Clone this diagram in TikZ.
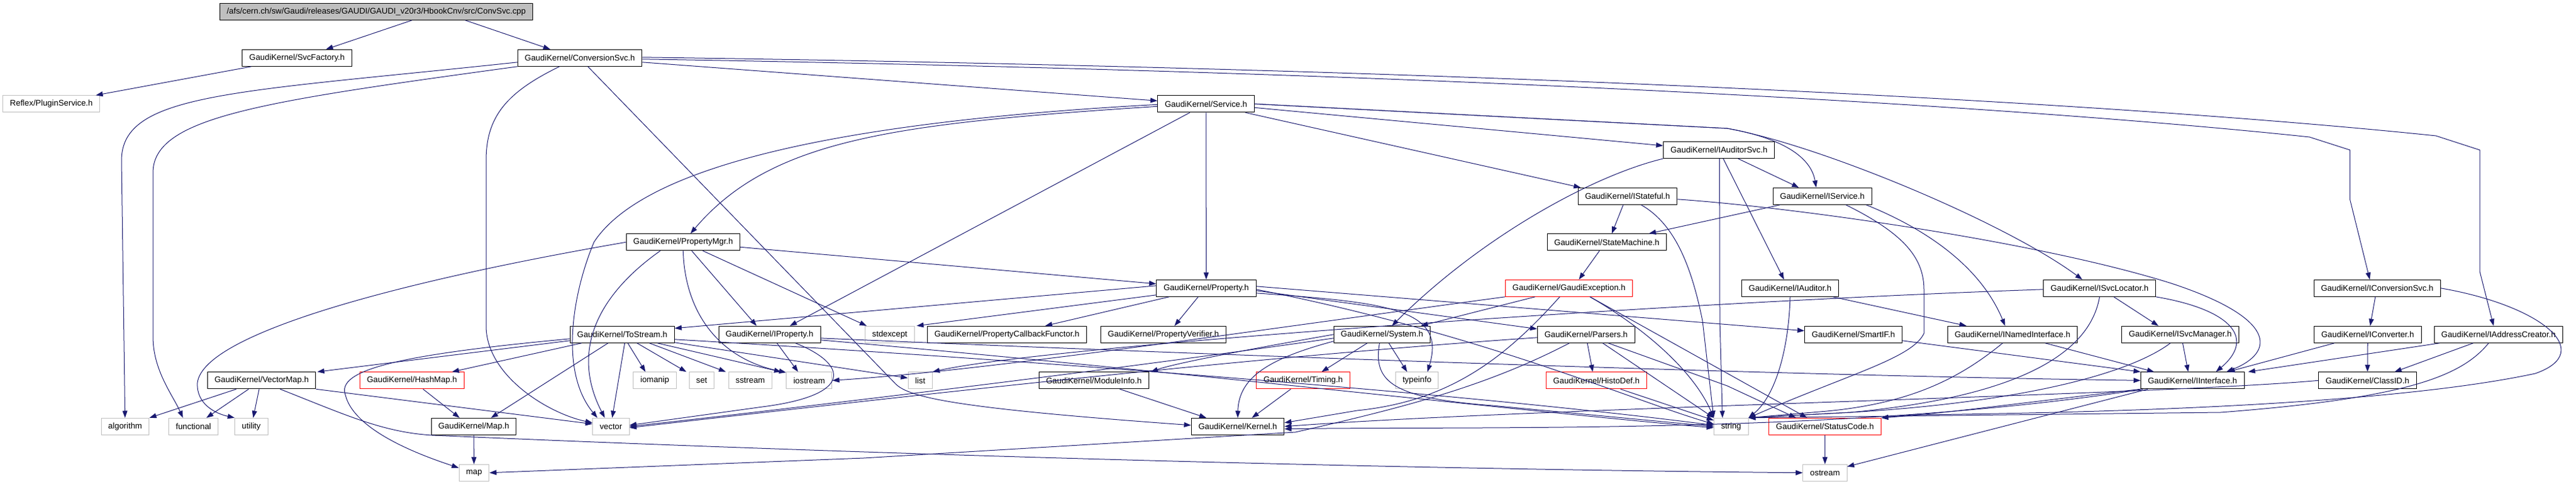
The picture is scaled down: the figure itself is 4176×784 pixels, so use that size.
\documentclass[tikz,border=0pt]{standalone}
\usepackage{fontspec}
\setmainfont{Liberation Sans}
\usepackage{tikz}
\usetikzlibrary{arrows.meta, calc}
\definecolor{edgeblue}{RGB}{25,25,112}
\definecolor{extgray}{RGB}{191,191,191}

\begin{document}
\begin{tikzpicture}[x=0.75pt, y=-0.75pt,
  hdr/.style={draw=black, fill=white, line width=0.75pt, inner xsep=8.6pt, inner ysep=0pt,
    minimum height=20.25pt, font=\fontsize{10}{12}\selectfont},
  ext/.style={hdr, draw=extgray},
  trunc/.style={hdr, draw=red},
  root/.style={hdr, fill=extgray},
  dep/.style={-{Triangle[length=8.5pt,width=6pt]}, draw=edgeblue, line width=0.75pt}]
\useasboundingbox (0,0) rectangle (4176,784);

% headers, row by row
\node[root] (convsvccpp) at (610,18.8) {/afs/cern.ch/sw/Gaudi/releases/GAUDI/GAUDI\_v20r3/HbookCnv/src/ConvSvc.cpp};
\node[hdr] (svcfactory) at (481.5,93.8) {GaudiKernel/SvcFactory.h};
\node[hdr] (conversionsvc) at (940,93.8) {GaudiKernel/ConversionSvc.h};
\node[ext] (pluginsvc) at (83.3,168.3) {Reflex/PluginService.h};
\node[hdr] (service) at (1955,168.3) {GaudiKernel/Service.h};
\node[hdr] (iauditorsvc) at (2786.6,243) {GaudiKernel/IAuditorSvc.h};
\node[hdr] (istateful) at (2638.4,317.8) {GaudiKernel/IStateful.h};
\node[hdr] (iservice) at (2954.2,317.8) {GaudiKernel/IService.h};
\node[hdr] (propertymgr) at (1107.4,392.3) {GaudiKernel/PropertyMgr.h};
\node[hdr] (statemachine) at (2604.9,392.3) {GaudiKernel/StateMachine.h};
\node[hdr] (property) at (1955.4,466.8) {GaudiKernel/Property.h};
\node[trunc] (gaudiexception) at (2543.5,466.8) {GaudiKernel/GaudiException.h};
\node[hdr] (iauditor) at (2902,466.8) {GaudiKernel/IAuditor.h};
\node[hdr] (isvclocator) at (3403.6,466.8) {GaudiKernel/ISvcLocator.h};
\node[hdr] (iconversionsvc) at (3853.7,466.8) {GaudiKernel/IConversionSvc.h};
\node[hdr] (tostream) at (1008.7,541.8) {GaudiKernel/ToStream.h};
\node[hdr] (iproperty) at (1247.5,541.8) {GaudiKernel/IProperty.h};
\node[ext] (stdexcept) at (1442.4,541.8) {stdexcept};
\node[hdr] (propertycallback) at (1632.4,541.8) {GaudiKernel/PropertyCallbackFunctor.h};
\node[hdr] (propertyverifier) at (1886,541.8) {GaudiKernel/PropertyVerifier.h};
\node[hdr] (system) at (2240.4,541.8) {GaudiKernel/System.h};
\node[hdr] (parsers) at (2571.2,541.8) {GaudiKernel/Parsers.h};
\node[hdr] (smartif) at (3004.5,541.8) {GaudiKernel/SmartIF.h};
\node[hdr] (inamedinterface) at (3262.5,541.8) {GaudiKernel/INamedInterface.h};
\node[hdr] (isvcmanager) at (3534.4,541.8) {GaudiKernel/ISvcManager.h};
\node[hdr] (iconverter) at (3838.3,541.8) {GaudiKernel/IConverter.h};
\node[hdr] (iaddresscreator) at (4050.3,541.8) {GaudiKernel/IAddressCreator.h};
\node[hdr] (vectormap) at (424.1,616.3) {GaudiKernel/VectorMap.h};
\node[trunc] (hashmap) at (667.8,616.3) {GaudiKernel/HashMap.h};
\foreach \n/\x in {iomanip/1061.4, set/1137.5, sstream/1216.3, iostream/1311.8, list/1491.8, typeinfo/2297.1}
  \node[ext] (\n) at (\x,616.3) {\n};
\node[hdr] (moduleinfo) at (1773.3,616.3) {GaudiKernel/ModuleInfo.h};
\node[trunc] (timing) at (2112.5,616.3) {GaudiKernel/Timing.h};
\node[trunc] (histodef) at (2588,616.3) {GaudiKernel/HistoDef.h};
\node[hdr] (iinterface) at (3554.3,616.3) {GaudiKernel/IInterface.h};
\node[hdr] (classid) at (3837.9,616.3) {GaudiKernel/ClassID.h};
\foreach \n/\x in {algorithm/202.9, functional/313.6, utility/407.4, vector/990.4, string/2806.3}
  \node[ext] (\n) at (\x,690.8) {\n};
\node[hdr] (gaudimap) at (768,690.8) {GaudiKernel/Map.h};
\node[hdr] (kernel) at (2006.5,690.8) {GaudiKernel/Kernel.h};
\node[trunc] (statuscode) at (2958.5,690.8) {GaudiKernel/StatusCode.h};
\node[ext] (map) at (768.5,765.8) {map};
\node[ext] (ostream) at (2958.5,765.8) {ostream};

% ConvSvc.cpp, SvcFactory.h
\draw[dep] ($(convsvccpp.south)+(58,0)$) -- ($(svcfactory.north)+(47,0)$);
\draw[dep] ($(convsvccpp.south)+(144,0)$) -- ($(conversionsvc.north)+(-48,0)$);
\draw[dep] ($(svcfactory.south)+(-74,0)$) -- ($(pluginsvc.north)+(72,0)$);

% ConversionSvc.h
\draw[dep] ($(conversionsvc.west)+(0,7)$) .. controls (380,150) and (197,150) .. (197,260) -- (algorithm);
\draw[dep] (conversionsvc.south west) .. controls (420,165) and (248,190) .. (248,280) -- (248,545)
  .. controls (248,600) and (280,640) .. ($(functional.north)+(-17,0)$);
\draw[dep] ($(conversionsvc.south)+(-33,0)$) .. controls (820,150) and (788,190) .. (788,260) -- (788,530)
  .. controls (790,610) and (890,670) .. ($(vector.west)+(0,-6)$);
\draw[dep] ($(conversionsvc.south)+(13,0)$) -- (1452,622) .. controls (1475,645) and (1560,662) .. ($(kernel.west)+(0,-2)$);
\draw[dep] ($(conversionsvc.east)+(0,7)$) -- ($(service.west)+(0,-5)$);
\draw[dep] ($(conversionsvc.east)+(0,-1)$) .. controls (2450,112) and (3450,168) .. (3949,220) -- (4020,243) -- (4020,440)
  -- ($(iaddresscreator.north)+(-8,0)$);
\draw[dep] ($(conversionsvc.east)+(0,2)$) .. controls (2400,118) and (3300,175) .. (3744,222) -- (3809.5,243) -- (3809.5,323)
  -- ($(iconversionsvc.north)+(-12,0)$);

% Service.h
\draw[dep] ($(service.west)+(0,4)$) .. controls (1450,200) and (1250,225) .. ($(propertymgr.north)+(12,0)$);
\draw[dep] ($(service.west)+(0,1)$) .. controls (1400,195) and (1050,260) .. (963,392) .. controls (930,470) and (905,600) .. ($(vector.north)+(-22,0)$);
\draw[dep] ($(service.south)+(-26,0)$) -- ($(iproperty.north)+(33,0)$);
\draw[dep] (service) -- (property);
\draw[dep] ($(service.south east)+(-15,0)$) -- ($(istateful.north west)+(5,0)$);
\draw[dep] ($(service.east)+(0,6)$) -- ($(iauditorsvc.west)+(0,-7)$);
\draw[dep] (service.east) -- (2800,208) .. controls (2880,222) and (2935,250) .. ($(iservice.north)+(-10,0)$);
\draw[dep] (service.east) -- (2800,208) .. controls (2950,235) and (3250,360) .. ($(isvclocator.north)+(-28,0)$);

% PropertyMgr.h
\draw[dep] (propertymgr.west) .. controls (650,455) and (330,540) .. (320,620) .. controls (318,655) and (350,670) .. (utility.north west);
\draw[dep] ($(propertymgr.south)+(-37,0)$) .. controls (980,470) and (920,560) .. ($(vector.north)+(-10,0)$);
\draw[dep] (propertymgr.south) .. controls (1110,500) and (1160,580) .. ($(iostream.north west)+(0,1)$);
\draw[dep] ($(propertymgr.south)+(14,0)$) -- ($(iproperty.north)+(-21,0)$);
\draw[dep] ($(propertymgr.south)+(32,0)$) -- ($(stdexcept.north west)+(3,0)$);
\draw[dep] ($(propertymgr.east)+(0,8)$) -- ($(property.west)+(0,-7)$);

% Property.h
\draw[dep] ($(property.west)+(0,-4)$) -- ($(tostream.north east)+(0,4)$);
\draw[dep] ($(property.south west)+(0,-3)$) -- ($(stdexcept.north east)+(3,0)$);
\draw[dep] ($(property.south)+(-60,0)$) -- ($(propertycallback.north)+(62,0)$);
\draw[dep] ($(property.south)+(-13,0)$) -- ($(propertyverifier.north)+(18,0)$);
\draw[dep] ($(property.east)+(0,4)$) -- ($(parsers.west)+(0,-9)$);
\draw[dep] ($(property.east)+(0,8)$) .. controls (2250,490) and (2345,500) .. ($(typeinfo.north)+(17,0)$);
\draw[dep] ($(property.east)+(0,-3)$) -- ($(smartif.west)+(0,-6)$);
\draw[dep] ($(property.east)+(0,2)$) .. controls (2400,540) and (2650,650) .. ($(string.west)+(0,-4)$);

% ToStream.h
\draw[dep] ($(tostream.west)+(0,7)$) .. controls (640,575) and (545,600) .. (560,640) .. controls (575,700) and (690,740) .. ($(map.west)+(0,-8)$);
\draw[dep] ($(tostream.west)+(0,10)$) -- ($(vectormap.north east)+(2,0)$);
\draw[dep] ($(tostream.south west)+(19,0)$) -- ($(hashmap.north east)+(-20,0)$);
\draw[dep] ($(tostream.south)+(-23,0)$) -- ($(gaudimap.north)+(28,0)$);
\draw[dep] ($(tostream.south)+(4,0)$) -- ($(vector.north)+(2,0)$);
\draw[dep] ($(tostream.south)+(9,0)$) -- ($(iomanip.north)+(-15,0)$);
\draw[dep] ($(tostream.south)+(24,0)$) -- ($(set.north west)+(-4,0)$);
\draw[dep] ($(tostream.south)+(44,0)$) -- ($(sstream.north west)+(-4,0)$);
\draw[dep] ($(tostream.south)+(57,0)$) -- ($(iostream.north west)+(-8,0)$);
\draw[dep] ($(tostream.east)+(0,13)$) -- ($(list.west)+(0,-4)$);
\draw[dep] ($(tostream.east)+(0,8)$) .. controls (1700,585) and (2400,640) .. ($(string.west)+(0,-2)$);

% IProperty.h
\draw[dep] ($(iproperty.south)+(12,0)$) -- ($(iostream.north)+(-18,0)$);
\draw[dep] ($(iproperty.south)+(42,0)$) .. controls (1375,590) and (1385,640) .. (1236,659) -- ($(vector.east)+(0,-2)$);
\draw[dep] ($(iproperty.east)+(0,6)$) .. controls (2200,585) and (3000,610) .. (iinterface.west);
\draw[dep] ($(iproperty.east)+(0,9)$) .. controls (1900,600) and (2500,670) .. ($(string.west)+(0,2)$);

% VectorMap.h, HashMap.h, Map.h
\draw[dep] ($(vectormap.south)+(-41,0)$) -- (algorithm.north east);
\draw[dep] ($(vectormap.south)+(-21,0)$) -- ($(functional.north)+(21,0)$);
\draw[dep] ($(vectormap.south)+(-4,0)$) -- ($(utility.north)+(3,0)$);
\draw[dep] (vectormap.south east) -- ($(vector.west)+(0,-4)$);
\draw[dep] ($(vectormap.south)+(30,0)$) .. controls (560,672) and (620,700) .. (700,705) .. controls (1500,740) and (2300,760) .. (ostream.west);
\draw[dep] ($(hashmap.south)+(18,0)$) -- ($(gaudimap.north)+(-23,0)$);
\draw[dep] (gaudimap) -- (map);

% IAuditorSvc.h, IStateful.h, IService.h
\draw[dep] ($(iauditorsvc.south)+(31,0)$) -- ($(iservice.north)+(-38,0)$);
\draw[dep] ($(iauditorsvc.south)+(7,0)$) -- ($(iauditor.north)+(-10,0)$);
\draw[dep] (iauditorsvc.south west) .. controls (2580,285) and (2400,385) .. ($(system.north)+(16,0)$);
\draw[dep] ($(iauditorsvc.south)+(1,0)$) -- (2788,520) -- ($(string.north)+(-14,0)$);
\draw[dep] ($(istateful.south)+(-7,0)$) -- ($(statemachine.north)+(8,0)$);
\draw[dep] ($(istateful.east)+(0,5)$) .. controls (2900,335) and (3300,390) .. (3520,459) .. controls (3690,515) and (3690,570) .. ($(iinterface.north)+(55,0)$);
\draw[dep] ($(istateful.south)+(22,0)$) .. controls (2710,360) and (2740,420) .. (2760,520) -- (string.north west);
\draw[dep] ($(iservice.south west)+(12,0)$) -- ($(statemachine.north east)+(-29,0)$);
\draw[dep] ($(iservice.south)+(71,0)$) .. controls (3120,370) and (3210,430) .. ($(inamedinterface.north)+(-12,0)$);
\draw[dep] ($(iservice.south)+(38,0)$) .. controls (3090,380) and (3119,420) .. (3119,470) -- (3119,540)
  .. controls (3100,580) and (3000,605) .. (string.north east);

% StateMachine.h, GaudiException.h
\draw[dep] ($(statemachine.south)+(-12,0)$) -- ($(gaudiexception.north)+(16,0)$);
\draw[dep] ($(gaudiexception.south)+(-55,0)$) -- ($(system.north)+(63,0)$);
\draw[dep] (gaudiexception.south west) .. controls (2000,540) and (1600,600) .. (iostream.east);
\draw[dep] ($(gaudiexception.south)+(-15,0)$) .. controls (2440,580) and (2350,650) .. (2200,665) -- ($(kernel.east)+(0,-6)$);
\draw[dep] ($(gaudiexception.south)+(34,0)$) -- ($(statuscode.north)+(-29,0)$);
\draw[dep] ($(gaudiexception.south)+(34,0)$) .. controls (2680,540) and (2750,610) .. (string.north west);

% System.h, Parsers.h
\draw[dep] ($(system.south)+(-24,0)$) -- ($(timing.north)+(30,0)$);
\draw[dep] ($(system.south)+(11,0)$) -- ($(typeinfo.north)+(-16,0)$);
\draw[dep] ($(system.south)+(-4,0)$) .. controls (2225,620) and (2260,645) .. (2420,657) -- (string.west);
\draw[dep] ($(system.west)+(0,11)$) .. controls (2060,580) and (2008,610) .. (kernel.north);
\draw[dep] (system.west) .. controls (2000,570) and (1900,590) .. ($(moduleinfo.north east)+(3,0)$);
\draw[dep] ($(system.west)+(0,6)$) .. controls (1800,600) and (1300,660) .. (vector.east);
\draw[dep] ($(parsers.south)+(2,0)$) -- ($(histodef.north)+(-6,0)$);
\draw[dep] ($(parsers.south)+(27,0)$) -- (string.north west);
\draw[dep] ($(parsers.south)+(36,0)$) -- (2800,625) -- ($(statuscode.north)+(-47,0)$);
\draw[dep] ($(parsers.south)+(-27,0)$) .. controls (2420,620) and (2300,655) .. (2100,700) -- (1400,742) -- (map.east);
\draw[dep] ($(parsers.west)+(0,5)$) .. controls (2000,580) and (1400,650) .. ($(vector.east)+(0,2)$);

% HistoDef.h, Timing.h, ModuleInfo.h
\draw[dep] ($(histodef.south)+(39,0)$) -- ($(string.west)+(0,-10)$);
\draw[dep] ($(timing.south)+(-20,0)$) -- ($(kernel.north)+(23,0)$);
\draw[dep] ($(moduleinfo.south)+(42,0)$) -- ($(kernel.north)+(-51,0)$);

% IAuditor.h, SmartIF.h, INamedInterface.h
\draw[dep] ($(iauditor.south east)+(-10,0)$) -- ($(inamedinterface.north west)+(31,0)$);
\draw[dep] (iauditor.south) .. controls (2900,560) and (2880,640) .. (string.north east);
\draw[dep] ($(smartif.east)+(0,10)$) -- (iinterface.north west);
\draw[dep] ($(inamedinterface.south)+(53,0)$) -- ($(iinterface.north west)+(22,0)$);
\draw[dep] ($(inamedinterface.south)+(-16,0)$) .. controls (3180,610) and (3100,655) .. (2950,667) -- (string.north east);

% ISvcLocator.h, ISvcManager.h
\draw[dep] ($(isvclocator.south)+(23,0)$) -- ($(isvcmanager.north west)+(60,0)$);
\draw[dep] (isvclocator.south east) .. controls (3610,500) and (3660,545) .. ($(iinterface.north)+(38,0)$);
\draw[dep] (isvclocator.south) .. controls (3390,560) and (3300,640) .. (3000,668) -- (string.north east);
\draw[dep] ($(isvclocator.west)+(0,2)$) .. controls (2700,490) and (1700,560) .. (list.north east);
\draw[dep] ($(isvcmanager.south)+(4,0)$) -- ($(iinterface.north)+(-7,0)$);
\draw[dep] ($(isvcmanager.south)+(-16,0)$) .. controls (3460,600) and (3300,650) .. (3000,668) -- (string.north east);

% IConversionSvc.h, IConverter.h, IAddressCreator.h, ClassID.h
\draw[dep] ($(iconversionsvc.south)+(-3,0)$) -- ($(iconverter.north)+(4,0)$);
\draw[dep] (iconversionsvc.east) .. controls (4120,495) and (4210,570) .. (4110,605) .. controls (3900,650) and (3500,668) .. (3100,672) -- (statuscode.north east);
\draw[dep] ($(iconverter.south)+(-54,0)$) -- ($(iinterface.north east)+(-27,0)$);
\draw[dep] (iconverter) -- (classid);
\draw[dep] ($(iaddresscreator.south west)+(9,0)$) -- ($(iinterface.north east)+(6,0)$);
\draw[dep] ($(iaddresscreator.south)+(-41,0)$) -- ($(classid.north)+(44,0)$);
\draw[dep] ($(iaddresscreator.south)+(-16,0)$) .. controls (3990,610) and (3900,645) .. (3600,668) -- (string.north east);
\draw[dep] (classid.west) .. controls (3500,640) and (2500,660) .. (kernel.east);

% IInterface.h, StatusCode.h
\draw[dep] ($(iinterface.south west)+(12,0)$) -- ($(ostream.east)+(0,-10)$);
\draw[dep] (iinterface.south west) .. controls (3300,650) and (3150,670) .. (statuscode.north east);
\draw[dep] ($(iinterface.south west)+(4,0)$) .. controls (3000,705) and (2400,690) .. ($(kernel.east)+(0,4)$);
\draw[dep] (statuscode) -- (ostream);
\end{tikzpicture}
\end{document}
